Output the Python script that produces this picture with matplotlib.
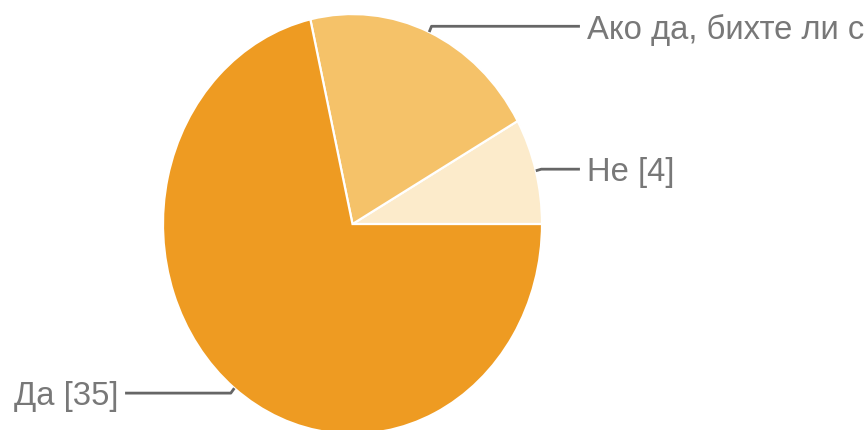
import numpy as np
import matplotlib
matplotlib.use("Agg")
import matplotlib.pyplot as plt

# data (counter-clockwise from 3 o'clock)
labels = ["Не [4]", "Ако да, бихте ли споделили [10]", "Да [35]"]
counts = [4, 10, 35]
colors = ["#FCEBCB", "#F5C269", "#EE9B22"]

plt.rcParams['font.family'] = ['Liberation Sans', 'DejaVu Sans']

fig = plt.figure(figsize=(8.64, 4.30), dpi=100)
ax = fig.add_axes([0, 0, 1, 1])

wedges, _ = ax.pie(counts, colors=colors, startangle=0, counterclock=True,
                   wedgeprops=dict(edgecolor="white", linewidth=1.6))

# the reference is a bit stretched vertically
ax.set_aspect('auto')
ax.set_xlim(-1.860, 2.699)
ax.set_ylim(-0.981, 1.067)
ax.axis('off')

# leader lines + labels
for w, lab in zip(wedges, labels):
    mid = np.deg2rad((w.theta1 + w.theta2) / 2)
    x0, y0 = np.cos(mid), np.sin(mid)
    x1, y1 = 1.03 * x0, 1.03 * y0
    side = 1 if x0 > 0 else -1
    xend = 1.2 * side
    ax.plot([x0, x1, xend], [y0, y1, y1], color="#666666", lw=2.0,
            solid_capstyle='butt', clip_on=False)
    ax.text(xend + 0.035 * side, y1, lab, fontsize=23.6, color="#787878",
            ha='left' if side > 0 else 'right', va='center_baseline')

fig.savefig("out.png", dpi=100)
